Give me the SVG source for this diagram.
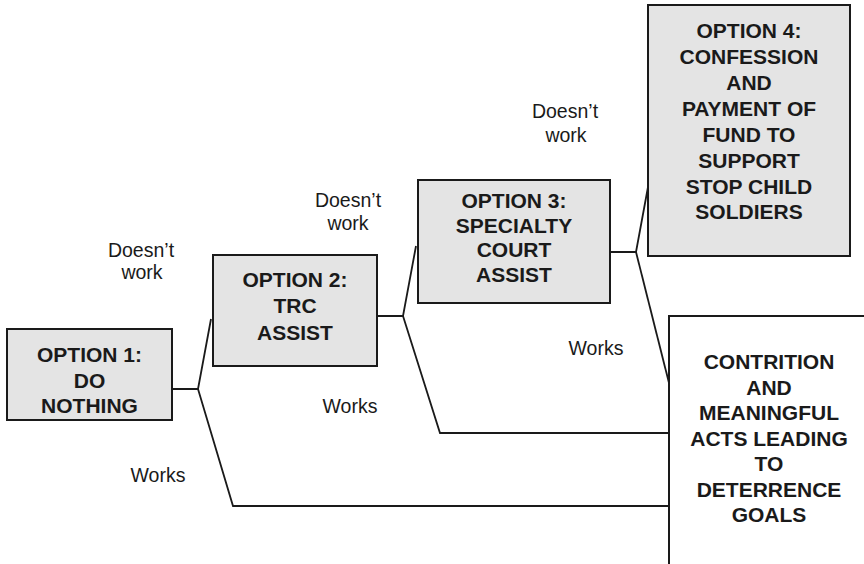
<svg xmlns="http://www.w3.org/2000/svg" width="864" height="564" viewBox="0 0 864 564">
  <style>
    .box { fill: #e4e4e4; stroke: #1a1a1a; stroke-width: 2; }
    .goal { fill: #ffffff; stroke: #1a1a1a; stroke-width: 2; }
    .title { font-family: "Liberation Sans", Arial, sans-serif; font-weight: bold; font-size: 21px; fill: #1a1a1a; text-anchor: middle; }
    .label { font-family: "Liberation Sans", Arial, sans-serif; font-size: 19.5px; fill: #1a1a1a; text-anchor: middle; }
    .link { fill: none; stroke: #1a1a1a; stroke-width: 1.8; stroke-linejoin: miter; }
  </style>
  <rect width="864" height="564" fill="#ffffff"/>

  <!-- branching connectors -->
  <g id="connectors">
    <polyline class="link" points="172,389 198,389 211,319"/>
    <polyline class="link" points="198,389 233,506 669,506"/>
    <polyline class="link" points="377,316 403,316 416,246"/>
    <polyline class="link" points="403,316 440,433 669,433"/>
    <polyline class="link" points="610,252 636,252 648,187"/>
    <polyline class="link" points="636,252 669,383"/>
  </g>

  <!-- branch labels -->
  <g id="labels">
    <text class="label" x="141" y="257">Doesn’t</text>
    <text class="label" x="142" y="279">work</text>
    <text class="label" x="348" y="207">Doesn’t</text>
    <text class="label" x="348" y="230">work</text>
    <text class="label" x="565" y="118">Doesn’t</text>
    <text class="label" x="566" y="142">work</text>
    <text class="label" x="158" y="482">Works</text>
    <text class="label" x="350" y="413">Works</text>
    <text class="label" x="596" y="355">Works</text>
  </g>

  <g id="option1">
    <rect class="box" x="7" y="329" width="165" height="91"/>
    <text class="title" x="89.5" y="362">OPTION 1:</text>
    <text class="title" x="89.5" y="388">DO</text>
    <text class="title" x="89.5" y="413">NOTHING</text>
  </g>

  <g id="option2">
    <rect class="box" x="213" y="255" width="164" height="111"/>
    <text class="title" x="295" y="287">OPTION 2:</text>
    <text class="title" x="295" y="313">TRC</text>
    <text class="title" x="295" y="339.5">ASSIST</text>
  </g>

  <g id="option3">
    <rect class="box" x="418" y="180" width="192" height="123"/>
    <text class="title" x="514" y="208">OPTION 3:</text>
    <text class="title" x="514" y="232.5">SPECIALTY</text>
    <text class="title" x="514" y="257">COURT</text>
    <text class="title" x="514" y="281.5">ASSIST</text>
  </g>

  <g id="option4">
    <rect class="box" x="648" y="5" width="202" height="251"/>
    <text class="title" x="749" y="38">OPTION 4:</text>
    <text class="title" x="749" y="64">CONFESSION</text>
    <text class="title" x="749" y="90">AND</text>
    <text class="title" x="749" y="116">PAYMENT OF</text>
    <text class="title" x="749" y="142">FUND TO</text>
    <text class="title" x="749" y="168">SUPPORT</text>
    <text class="title" x="749" y="193.5">STOP CHILD</text>
    <text class="title" x="749" y="219">SOLDIERS</text>
  </g>

  <g id="goal">
    <rect class="goal" x="669" y="316" width="200" height="260"/>
    <text class="title" x="769" y="369">CONTRITION</text>
    <text class="title" x="769" y="394.5">AND</text>
    <text class="title" x="769" y="420">MEANINGFUL</text>
    <text class="title" x="769" y="446">ACTS LEADING</text>
    <text class="title" x="769" y="471">TO</text>
    <text class="title" x="769" y="497">DETERRENCE</text>
    <text class="title" x="769" y="522">GOALS</text>
  </g>
</svg>
